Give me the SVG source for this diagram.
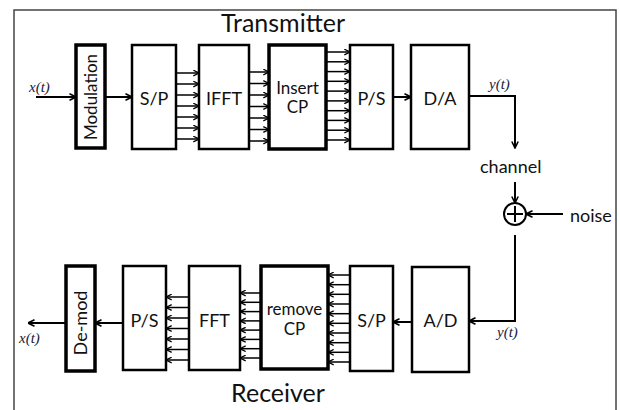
<svg xmlns="http://www.w3.org/2000/svg" width="620" height="410" viewBox="0 0 620 410">
<defs>
<marker id="ah" viewBox="0 0 8 8" refX="7.5" refY="4" markerWidth="8" markerHeight="8" markerUnits="userSpaceOnUse" orient="auto">
<path d="M1,0.8 L7.5,4 L1,7.2" fill="none" stroke="#000" stroke-width="1.6"/>
</marker>
<marker id="ahs" viewBox="0 0 8 8" refX="7.5" refY="4" markerWidth="7" markerHeight="7" markerUnits="userSpaceOnUse" orient="auto">
<path d="M1,0.8 L7.5,4 L1,7.2" fill="none" stroke="#000" stroke-width="1.5"/>
</marker>
</defs>
<style>
.box{fill:#fff;stroke:#000;stroke-width:2.5}
.thick{stroke-width:3.5}
.lbl{font-family:Lato,"Liberation Sans",sans-serif;font-size:18px;fill:#111;text-anchor:middle}
.sm{font-size:17px}
.ttl{font-family:Lato,"Liberation Sans",sans-serif;font-size:25px;fill:#111;text-anchor:middle}
.sig{font-family:"Liberation Serif",serif;font-style:italic;font-size:15px;fill:#1a1a40}
.w{font-family:Lato,"Liberation Sans",sans-serif;font-size:18px;fill:#111}
.c{fill:none;stroke:#000;stroke-width:2}
.b{fill:none;stroke:#000;stroke-width:1.5}
</style>
<rect x="0" y="0" width="620" height="410" fill="#fff"/>
<rect x="14" y="10" width="602" height="420" fill="none" stroke="#444" stroke-width="1.5"/>
<text class="ttl" x="283" y="32">Transmitter</text>
<text class="ttl" x="278" y="402">Receiver</text>

<g id="modulation"><rect class="box thick" x="76" y="45" width="29" height="103"/><text class="lbl sm" transform="translate(96.5,97) rotate(-90)">Modulation</text></g>
<g id="sp-tx"><rect class="box" x="132" y="45" width="44" height="104"/><text class="lbl" x="154" y="105">S/P</text></g>
<g id="ifft"><rect class="box" x="199" y="45" width="50" height="104"/><text class="lbl" x="224" y="105">IFFT</text></g>
<g id="insert-cp"><rect class="box thick" x="269" y="45" width="57" height="104"/><text class="lbl sm" x="297.5" y="94">Insert</text><text class="lbl sm" x="297.5" y="113">CP</text></g>
<g id="ps-tx"><rect class="box" x="350" y="45" width="43" height="104"/><text class="lbl" x="371.5" y="105">P/S</text></g>
<g id="da"><rect class="box" x="411" y="45" width="58" height="104"/><text class="lbl" x="440" y="105">D/A</text></g>

<g id="ad"><rect class="box" x="412" y="267" width="57" height="105"/><text class="lbl" x="440.5" y="327">A/D</text></g>
<g id="sp-rx"><rect class="box" x="350" y="266" width="43" height="105"/><text class="lbl" x="371.5" y="327">S/P</text></g>
<g id="remove-cp"><rect class="box thick" x="261" y="266" width="67" height="103"/><text class="lbl sm" x="294.5" y="315">remove</text><text class="lbl sm" x="294.5" y="335">CP</text></g>
<g id="fft"><rect class="box" x="189" y="266" width="51" height="104"/><text class="lbl" x="214.5" y="327">FFT</text></g>
<g id="ps-rx"><rect class="box" x="123" y="266" width="43" height="104"/><text class="lbl" x="144.5" y="327">P/S</text></g>
<g id="demod"><rect class="box thick" x="66" y="266" width="29" height="105"/><text class="lbl" transform="translate(86.5,323) rotate(-90)">De-mod</text></g>

<g id="adder"><circle cx="515" cy="214" r="11" fill="#fff" stroke="#000" stroke-width="2"/><path d="M515,206 V222 M507,214 H523" stroke="#000" stroke-width="2"/></g>

<g id="labels">
<text class="sig" x="29" y="92">x(t)</text>
<text class="sig" x="489" y="89">y(t)</text>
<text class="sig" x="497" y="337">y(t)</text>
<text class="sig" x="19" y="343">x(t)</text>
<text class="w" x="480" y="173">channel</text>
<text class="w" x="570" y="222">noise</text>
</g>

<g id="connectors">
<path class="c" d="M36,97 H76" marker-end="url(#ah)"/>
<path class="c" d="M105,97 H132" marker-end="url(#ah)"/>
<path class="c" d="M393,97 H411" marker-end="url(#ah)"/>
<path class="c" d="M469,96 H515 V148" marker-end="url(#ah)"/>
<path class="c" d="M515,182 V203" marker-end="url(#ah)"/>
<path class="c" d="M563,214 H526" marker-end="url(#ah)"/>
<path class="c" d="M515,235 V321 H469" marker-end="url(#ah)"/>
<path class="c" d="M412,322 H393" marker-end="url(#ah)"/>
<path class="c" d="M123,323 H95" marker-end="url(#ah)"/>
<path class="c" d="M66,323 H28" marker-end="url(#ah)"/>
<g marker-end="url(#ahs)">
<path class="b" d="M176,73 H199"/><path class="b" d="M176,84 H199"/><path class="b" d="M176,95 H199"/><path class="b" d="M176,106 H199"/><path class="b" d="M176,117 H199"/><path class="b" d="M176,128 H199"/><path class="b" d="M176,139 H199"/>
<path class="b" d="M249,72 H269"/><path class="b" d="M249,83.5 H269"/><path class="b" d="M249,95 H269"/><path class="b" d="M249,106.5 H269"/><path class="b" d="M249,118 H269"/><path class="b" d="M249,129.5 H269"/><path class="b" d="M249,141 H269"/>
<path class="b" d="M326,52 H350"/><path class="b" d="M326,61.8 H350"/><path class="b" d="M326,71.6 H350"/><path class="b" d="M326,81.3 H350"/><path class="b" d="M326,91.1 H350"/><path class="b" d="M326,100.9 H350"/><path class="b" d="M326,110.7 H350"/><path class="b" d="M326,120.4 H350"/><path class="b" d="M326,130.2 H350"/><path class="b" d="M326,140 H350"/>
<path class="b" d="M350,275 H328"/><path class="b" d="M350,284.7 H328"/><path class="b" d="M350,294.3 H328"/><path class="b" d="M350,304 H328"/><path class="b" d="M350,313.7 H328"/><path class="b" d="M350,323.3 H328"/><path class="b" d="M350,333 H328"/><path class="b" d="M350,342.7 H328"/><path class="b" d="M350,352.3 H328"/><path class="b" d="M350,362 H328"/>
<path class="b" d="M261,293 H240"/><path class="b" d="M261,302.3 H240"/><path class="b" d="M261,311.6 H240"/><path class="b" d="M261,320.9 H240"/><path class="b" d="M261,330.1 H240"/><path class="b" d="M261,339.4 H240"/><path class="b" d="M261,348.7 H240"/><path class="b" d="M261,358 H240"/>
<path class="b" d="M189,297 H166"/><path class="b" d="M189,307.5 H166"/><path class="b" d="M189,318 H166"/><path class="b" d="M189,328.5 H166"/><path class="b" d="M189,339 H166"/><path class="b" d="M189,349.5 H166"/><path class="b" d="M189,360 H166"/>
</g>
</g>
</svg>
